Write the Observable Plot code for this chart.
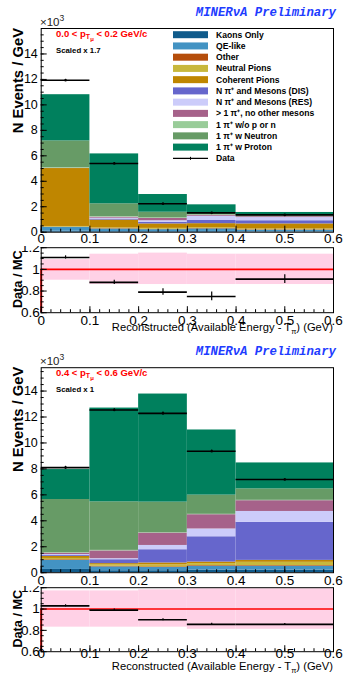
<!DOCTYPE html>
<html><head><meta charset="utf-8">
<script src="https://cdn.jsdelivr.net/npm/d3@7"></script>
<script src="https://cdn.jsdelivr.net/npm/@observablehq/plot@0.6"></script>
<style>
body{margin:0;background:#fff;}
#root{position:relative;width:344px;height:676px;overflow:hidden;background:#fff;}
#root svg{position:absolute;left:0;}
</style></head><body><div id="root"></div>
<script>
// ---- bins & ticks ----
const binLo = [0, 0.1, 0.2, 0.3, 0.4];
const binHi = [0.1, 0.2, 0.3, 0.4, 0.6];
const xTicks = [0, 0.1, 0.2, 0.3, 0.4, 0.5, 0.6];
const xTickLabels = ["0", "0.1", "0.2", "0.3", "0.4", "0.5", "0.6"];
const yTicksMain = [0, 2, 4, 6, 8, 10, 12, 14];
const yTicksRatio = [0.6, 0.8, 1, 1.2];
const yTickLabelsRatio = ["0.6", "0.8", "1", "1.2"];
const refLine = 1;

const categories = ["Kaons Only", "QE-like", "Other", "Neutral Pions", "Coherent Pions",
  "N  \u03c0\u207a and Mesons (DIS)", "N  \u03c0\u207a and Mesons (RES)", "> 1 \u03c0\u207a, no other mesons",
  "1 \u03c0\u207a w/o p or n", "1 \u03c0\u207a w Neutron", "1 \u03c0\u207a w Proton"];
const colors = ["#105b8b", "#4393c3", "#b54d0b", "#c8b83c", "#bf8600",
  "#6666cc", "#ccccfa", "#a6628a", "#99cc99", "#679b66", "#00805d"];

// ---- panel A: 0.0 < pT < 0.2 GeV/c (scaled x 1.7), N events / GeV (x10^3) ----
const a_kaons   = [0.08, 0.05, 0.05, 0.06, 0.04];
const a_qe      = [0.30, 0.20, 0.15, 0.20, 0.12];
const a_other   = [0.02, 0.03, 0.03, 0.03, 0.03];
const a_neutral = [0.05, 0.05, 0.07, 0.06, 0.06];
const a_coh     = [4.55, 0.62, 0.35, 0.32, 0.40];
const a_dis     = [0.00, 0.08, 0.12, 0.25, 0.25];
const a_res     = [0.00, 0.07, 0.13, 0.33, 0.25];
const a_multi   = [0.02, 0.08, 0.18, 0.08, 0.07];
const a_nopn    = [0.05, 0.05, 0.05, 0.03, 0.03];
const a_neutron = [2.10, 1.00, 0.44, 0.10, 0.08];
const a_proton  = [3.63, 3.92, 1.39, 0.69, 0.22];
const a_data    = [11.93, 5.40, 2.24, 1.52, 1.36];
const a_dataErr = [0.08, 0.07, 0.05, 0.04, 0.03];
const a_ratio    = [1.11, 0.88, 0.79, 0.75, 0.91];
const a_ratioErr = [0.015, 0.02, 0.03, 0.04, 0.04];
const a_bandLo   = [0.90, 0.86, 0.86, 0.86, 0.86];
const a_bandHi   = [1.09, 1.14, 1.15, 1.14, 1.14];

// ---- panel B: 0.4 < pT < 0.6 GeV/c (scaled x 1) ----
const b_kaons   = [0.25, 0.15, 0.15, 0.20, 0.20];
const b_qe      = [0.70, 0.30, 0.25, 0.30, 0.30];
const b_other   = [0.05, 0.05, 0.05, 0.05, 0.05];
const b_neutral = [0.10, 0.12, 0.15, 0.15, 0.25];
const b_coh     = [0.15, 0.08, 0.15, 0.12, 0.15];
const b_dis     = [0.07, 0.30, 1.02, 1.95, 2.93];
const b_res     = [0.08, 0.08, 0.33, 0.60, 0.84];
const b_multi   = [0.10, 0.60, 0.95, 1.10, 0.83];
const b_nopn    = [0.04, 0.04, 0.03, 0.03, 0.03];
const b_neutron = [4.10, 3.74, 2.36, 1.48, 0.88];
const b_proton  = [2.31, 7.23, 8.33, 5.02, 2.00];
const b_data    = [8.10, 12.54, 12.28, 9.36, 7.18];
const b_dataErr = [0.10, 0.10, 0.10, 0.10, 0.06];
const b_ratio    = [1.03, 0.99, 0.90, 0.856, 0.856];
const b_ratioErr = [0.01, 0.01, 0.01, 0.01, 0.008];
const b_bandLo   = [0.83, 0.83, 0.83, 0.81, 0.81];
const b_bandHi   = [1.17, 1.17, 1.18, 1.19, 1.19];

const A = [a_kaons, a_qe, a_other, a_neutral, a_coh, a_dis, a_res, a_multi, a_nopn, a_neutron, a_proton];
const B = [b_kaons, b_qe, b_other, b_neutral, b_coh, b_dis, b_res, b_multi, b_nopn, b_neutron, b_proton];

const FONT = "'Liberation Sans', Arial, Helvetica, sans-serif";
const root = d3.select("#root");
const xMinor = d3.range(0, 0.6001, 0.02);
const yMinorMain = d3.range(0, 16, 0.5);
const yMinorRatio = d3.range(0.6, 1.2001, 0.05);

function pointsOf(vals, errs) {
  return vals.map((v, i) => ({lo: binLo[i], hi: binHi[i], mid: (binLo[i] + binHi[i]) / 2, v, e: errs[i]}));
}
function place(svg, top) {
  svg.style.top = top + "px";
  root.node().appendChild(svg);
}

function mainPanel(top, height, mTop, mBottom, comps, data, dataErr, yMax, xPad) {
  const rows = [];
  binLo.forEach((lo, i) => {
    let acc = 0;
    comps.forEach((arr, k) => {
      rows.push({lo, hi: binHi[i], y1: acc, y2: acc + arr[i], cat: categories[k]});
      acc += arr[i];
    });
  });
  const pts = pointsOf(data, dataErr);
  const svg = Plot.plot({
    width: 344, height, marginTop: mTop, marginBottom: mBottom, marginLeft: 40.7, marginRight: 11,
    style: {background: "transparent", overflow: "hidden", fontFamily: FONT, color: "black"},
    x: {domain: [0, 0.6]}, y: {domain: [0, yMax]},
    color: {domain: categories, range: colors},
    marks: [
      Plot.rect(rows, {x1: "lo", x2: "hi", y1: "y1", y2: "y2", fill: "cat"}),
      Plot.ruleY(pts, {y: "v", x1: "lo", x2: "hi", stroke: "black", strokeWidth: 1.6}),
      Plot.ruleX(pts, {x: "mid", y1: d => d.v - d.e, y2: d => d.v + d.e, stroke: "black", strokeWidth: 1.2}),
      Plot.dot(pts, {x: "mid", y: "v", r: 1.3, fill: "black"}),
      Plot.frame({stroke: "black", strokeWidth: 1}),
      Plot.axisY(yMinorMain, {tickSize: -3, tickFormat: () => "", label: null}),
      Plot.axisY(yTicksMain, {tickSize: -6, tickPadding: 9.4, fontSize: 12.5, tickFormat: d => String(d), label: null}),
      Plot.axisX(xMinor, {tickSize: -3, tickFormat: () => "", label: null}),
      Plot.axisX(xTicks, {tickSize: -6, tickPadding: xPad, fontSize: 13.5, tickFormat: (d, i) => xTickLabels[i], label: null})
    ]
  });
  place(svg, top);
}

function ratioPanel(top, height, mTop, mBottom, ratio, ratioErr, bandLo, bandHi, xPad) {
  const pts = pointsOf(ratio, ratioErr);
  const bands = binLo.map((lo, i) => ({lo, hi: binHi[i], b1: bandLo[i], b2: bandHi[i]}));
  const svg = Plot.plot({
    width: 344, height, marginTop: mTop, marginBottom: mBottom, marginLeft: 40.7, marginRight: 11,
    style: {background: "transparent", overflow: "hidden", fontFamily: FONT, color: "black"},
    x: {domain: [0, 0.6]}, y: {domain: [yTicksRatio[0], yTicksRatio[yTicksRatio.length - 1]]},
    marks: [
      Plot.rect(bands, {x1: "lo", x2: "hi", y1: "b1", y2: "b2", fill: "#ffd1e6"}),
      Plot.ruleY([refLine], {stroke: "#ff0000", strokeWidth: 1.6}),
      Plot.ruleX([binLo[0]], {y1: yTicksRatio[0], y2: refLine, stroke: "#ff0000", strokeWidth: 2}),
      Plot.ruleY(pts, {y: "v", x1: "lo", x2: "hi", stroke: "black", strokeWidth: 1.6}),
      Plot.ruleX(pts, {x: "mid", y1: d => d.v - d.e, y2: d => d.v + d.e, stroke: "black", strokeWidth: 1.2}),
      Plot.frame({stroke: "black", strokeWidth: 1}),
      Plot.axisY(yMinorRatio, {tickSize: -3, tickFormat: () => "", label: null}),
      Plot.axisY(yTicksRatio, {tickSize: -6, tickPadding: 7.4, fontSize: 13.5, tickFormat: (d, i) => yTickLabelsRatio[i], label: null}),
      Plot.axisX(xMinor, {tickSize: -3, tickFormat: () => "", label: null}),
      Plot.axisX(xTicks, {tickSize: -6, tickPadding: xPad, fontSize: 13.5, tickFormat: (d, i) => xTickLabels[i], label: null})
    ]
  });
  place(svg, top);
}

// geometry (ratio pads drawn after, transparent, clipping their own top label like the original)
mainPanel(0, 250, 28, 18.3, A, a_data, a_dataErr, 16, 7.6);
ratioPanel(245.5, 95, 1.2, 28.8, a_ratio, a_ratioErr, a_bandLo, a_bandHi, 9.2);
mainPanel(340.5, 250, 26.2, 18.8, B, b_data, b_dataErr, 15.8, 8.8);
ratioPanel(585.5, 90.5, 1.2, 25.3, b_ratio, b_ratioErr, b_bandLo, b_bandHi, 3);

// ---- overlay text: titles, labels, legend ----
const ov = root.append("svg").attr("width", 344).attr("height", 676).style("top", "0px")
  .style("pointer-events", "none").style("font-family", FONT);

function panelText(dy, frameTop, ratioMid, label, scaled) {
  ov.append("text").attr("x", 336).attr("y", 15.5 + dy).attr("text-anchor", "end")
    .style("font-family", "'Liberation Mono', 'DejaVu Sans Mono', monospace")
    .style("font-weight", "bold").style("font-style", "italic").style("font-size", "12.3px")
    .attr("fill", "#1e3cff").text("MINER\u03bdA Preliminary");
  const t = ov.append("text").attr("x", 40).attr("y", 25.8 + dy).attr("fill", "#222").style("font-size", "11.5px");
  t.append("tspan").text("\u00d710");
  t.append("tspan").attr("dy", -4.5).style("font-size", "8.5px").text("3");
  ov.append("text").attr("transform", `translate(23,${frameTop}) rotate(-90)`).attr("text-anchor", "end")
    .style("font-weight", "bold").style("font-size", "14.8px").text("N Events / GeV");
  ov.append("text").attr("transform", `translate(21.7,${ratioMid}) rotate(-90)`).attr("text-anchor", "middle")
    .style("font-weight", "bold").style("font-size", "12.7px").text("Data / MC");
  const r = ov.append("text").attr("x", 56).attr("y", 36.7 + dy).attr("fill", "#ff0000")
    .style("font-weight", "bold").style("font-size", "9.5px");
  r.append("tspan").text(label[0] + " < p");
  r.append("tspan").attr("dy", 2.5).style("font-size", "7px").text("T");
  r.append("tspan").attr("dy", 1.5).style("font-size", "6px").text("\u03bc");
  r.append("tspan").attr("dy", -4).text(" < " + label[1] + " GeV/c");
  ov.append("text").attr("x", 56).attr("y", 53.3 + dy).style("font-weight", "bold").style("font-size", "7.8px")
    .text(scaled);
  const x = ov.append("text").attr("x", 333).attr("y", 330.5 + dy).attr("text-anchor", "end")
    .style("font-size", "11.2px");
  x.append("tspan").text("Reconstructed (Available Energy - T");
  x.append("tspan").attr("dy", 3).style("font-size", "7.5px").text("\u03c0");
  x.append("tspan").attr("dy", -3).text(") (GeV)");
}
panelText(0, 28, 279.2, ["0.0", "0.2"], "Scaled x 1.7");
panelText(339, 366.7, 618.7, ["0.4", "0.6"], "Scaled x 1");

// legend (top panel)
const legY0 = 34.7, legStep = 11.24;
categories.forEach((c, k) => {
  const y = legY0 + k * legStep;
  ov.append("rect").attr("x", 173).attr("y", y - 3.5).attr("width", 35).attr("height", 7).attr("fill", colors[k]);
  ov.append("text").attr("x", 216).attr("y", y + 3).style("font-weight", "bold").style("font-size", "8.6px").text(c);
});
{
  const y = legY0 + categories.length * legStep;
  ov.append("line").attr("x1", 173).attr("x2", 208).attr("y1", y).attr("y2", y).attr("stroke", "black").attr("stroke-width", 1.3);
  ov.append("line").attr("x1", 190.5).attr("x2", 190.5).attr("y1", y - 1.5).attr("y2", y + 1.5).attr("stroke", "black").attr("stroke-width", 1);
  ov.append("text").attr("x", 216).attr("y", y + 3).style("font-weight", "bold").style("font-size", "8.6px").text("Data");
}
</script></body></html>
